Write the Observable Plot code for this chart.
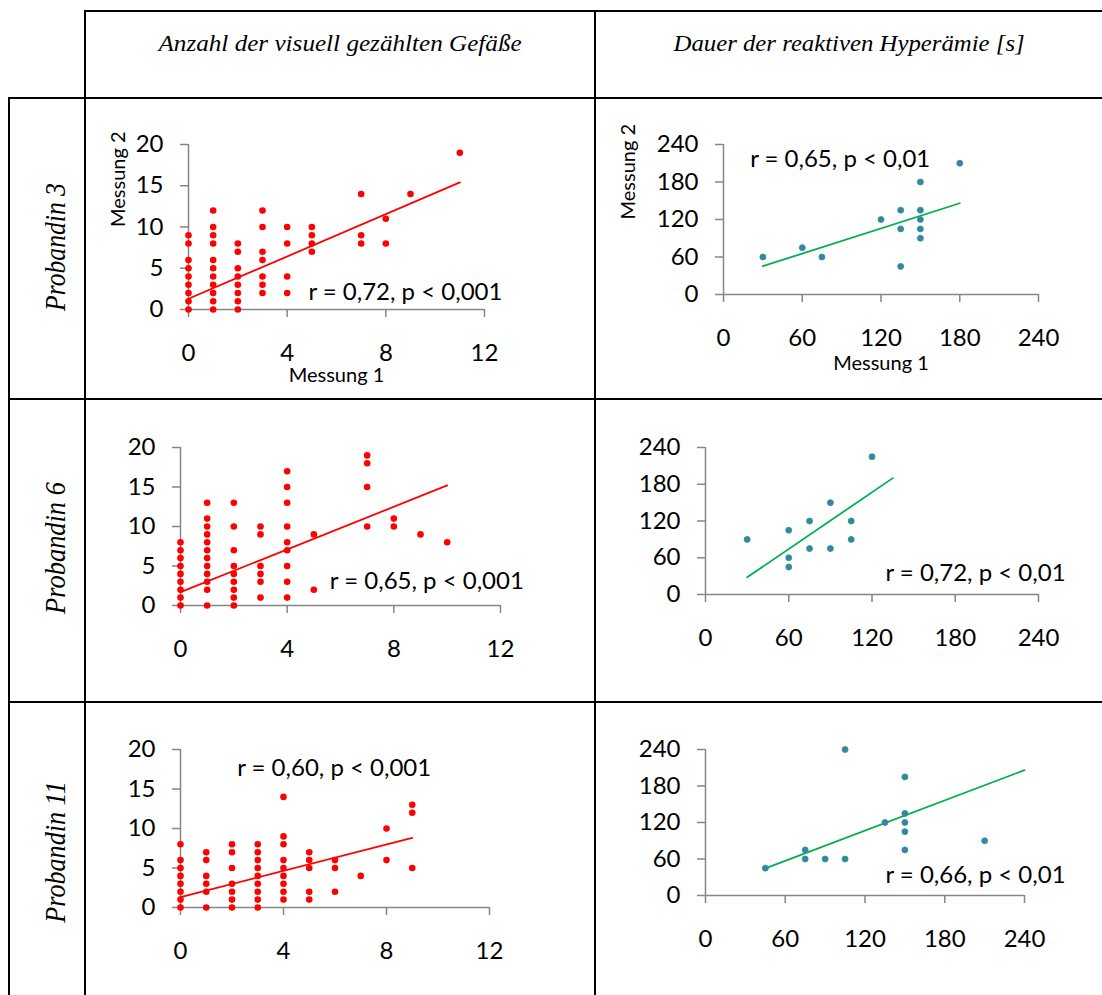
<!DOCTYPE html>
<html>
<head>
<meta charset="utf-8">
<script src="https://cdn.jsdelivr.net/npm/d3@7"></script>
<script src="https://cdn.jsdelivr.net/npm/@observablehq/plot@0.6"></script>
<style>
  html, body { margin: 0; padding: 0; background: #fff; }
  #page { position: relative; width: 1102px; height: 995px; background: #fff; overflow: hidden; }
  .ln { position: absolute; background: #000; }
  .hdr { position: absolute; text-align: center; font-family: "Liberation Serif", serif; font-style: italic; font-size: 23px; line-height: 1; color: #000; white-space: nowrap; }
  .hdr span { display: inline-block; transform-origin: center; }
  .rowlbl { position: absolute; font-family: "Liberation Serif", serif; font-style: italic; font-size: 30px; line-height: 1; color: #000; white-space: nowrap; }
  .cell { position: absolute; }
</style>
</head>
<body>
<div id="page"></div>
<script>
// ---------- data ----------
const columnTitles = ["Anzahl der visuell gezählten Gefäße", "Dauer der reaktiven Hyperämie [s]"];
const rowTitles = ["Probandin 3", "Probandin 6", "Probandin 11"];
const axisTitleX = "Messung 1";
const axisTitleY = "Messung 2";

const countTicksX = [0, 4, 8, 12];
const countTicksY = [0, 5, 10, 15, 20];
const timeTicks = [0, 60, 120, 180, 240];

// Probandin 3 – counted vessels (x = Messung 1, list of Messung 2 values)
const p3CountCols = [0, 1, 2, 3, 4, 5, 7, 8, 9, 11];
const p3CountVals = [
  [0, 1, 2, 3, 4, 5, 6, 8, 9],
  [0, 1, 2, 3, 4, 5, 6, 8, 9, 10, 12],
  [0, 1, 2, 3, 4, 5, 7, 8],
  [2, 3, 4, 6, 7, 10, 12],
  [2, 4, 8, 10],
  [7, 8, 9, 10],
  [8, 9, 14],
  [8, 11],
  [14],
  [19]
];
const p3CountTrendX = [0, 11];
const p3CountTrendY = [1.3, 15.4];
const p3CountStat = "r = 0,72, p < 0,001";

// Probandin 6 – counted vessels
const p6CountCols = [0, 1, 2, 3, 4, 5, 7, 8, 9, 10];
const p6CountVals = [
  [0, 1, 2, 3, 4, 5, 6, 7, 8],
  [0, 2, 3, 4, 5, 6, 7, 8, 9, 10, 11, 13],
  [0, 1, 2, 3, 4, 5, 7, 10, 13],
  [1, 3, 4, 5, 9, 10],
  [1, 3, 5, 7, 8, 10, 13, 15, 17],
  [2, 9],
  [10, 15, 18, 19],
  [10, 11],
  [9],
  [8]
];
const p6CountTrendX = [0, 10];
const p6CountTrendY = [1.7, 15.2];
const p6CountStat = "r = 0,65, p < 0,001";

// Probandin 11 – counted vessels
const p11CountCols = [0, 1, 2, 3, 4, 5, 6, 7, 8, 9];
const p11CountVals = [
  [0, 1, 2, 3, 4, 5, 6, 8],
  [0, 2, 3, 4, 6, 7],
  [0, 1, 2, 3, 5, 7, 8],
  [0, 1, 2, 3, 4, 5, 6, 7, 8],
  [1, 2, 3, 4, 5, 6, 8, 9, 14],
  [1, 2, 5, 6, 7],
  [2, 5, 6],
  [4],
  [6, 10],
  [5, 12, 13]
];
const p11CountTrendX = [0, 9];
const p11CountTrendY = [1.3, 8.8];
const p11CountStat = "r = 0,60, p < 0,001";

// Duration of reactive hyperaemia [s]
const p3TimeX = [30, 60, 75, 120, 135, 135, 135, 150, 150, 150, 150, 150, 180];
const p3TimeY = [60, 75, 60, 120, 135, 105, 45, 180, 135, 120, 105, 90, 210];
const p3TimeTrendX = [30, 180];
const p3TimeTrendY = [45.3, 146];
const p3TimeStat = "r = 0,65, p < 0,01";

const p6TimeX = [30, 60, 60, 60, 75, 75, 90, 90, 105, 105, 120];
const p6TimeY = [90, 105, 60, 45, 120, 75, 150, 75, 120, 90, 225];
const p6TimeTrendX = [30, 135];
const p6TimeTrendY = [28, 190];
const p6TimeStat = "r = 0,72, p < 0,01";

const p11TimeX = [45, 75, 75, 90, 105, 105, 135, 150, 150, 150, 150, 150, 210];
const p11TimeY = [45, 75, 60, 60, 240, 60, 120, 195, 135, 120, 105, 75, 90];
const p11TimeTrendX = [45, 240];
const p11TimeTrendY = [44.6, 206];
const p11TimeStat = "r = 0,66, p < 0,01";

// label anchor positions of the statistics, in data units [x, y]
const p3CountStatPos = [4.86, 2.1];
const p6CountStatPos = [5.6, 3.0];
const p11CountStatPos = [2.2, 17.6];
const p3TimeStatPos = [20.3, 217];
const p6TimeStatPos = [129.7, 35];
const p11TimeStatPos = [135.4, 32.5];

// ---------- helpers ----------
const fromColumns = (cols, vals) => cols.flatMap((c, i) => vals[i].map(v => ({x: c, y: v})));
const fromPairs = (xs, ys) => xs.map((x, i) => ({x, y: ys[i]}));

const page = document.getElementById("page");

// table lines
function line(l, t, w, h) {
  const d = document.createElement("div");
  d.className = "ln";
  Object.assign(d.style, {left: l + "px", top: t + "px", width: w + "px", height: h + "px"});
  page.appendChild(d);
}
line(84, 10, 1018, 2);
line(8, 97, 1094, 2);
line(8, 398, 1094, 2);
line(8, 701, 1094, 2);
line(8, 97, 2, 898);
line(84, 10, 2, 985);
line(594, 10, 2, 985);

// column headers
const headerCells = [{left: 86, width: 508, target: 363}, {left: 596, width: 506, target: 351}];
columnTitles.forEach((t, i) => {
  const d = document.createElement("div");
  d.className = "hdr";
  Object.assign(d.style, {left: headerCells[i].left + "px", width: headerCells[i].width + "px", top: "32px"});
  const s = document.createElement("span");
  s.textContent = t;
  d.appendChild(s);
  page.appendChild(d);
  const w = s.offsetWidth;
  s.style.transform = `scaleX(${headerCells[i].target / w})`;
});

// row labels
const rowCenters = [247, 548, 852];
const rowTargets = [128, 132, 142];
rowTitles.forEach((t, i) => {
  const d = document.createElement("div");
  d.className = "rowlbl";
  d.textContent = t;
  page.appendChild(d);
  const w = d.offsetWidth, h = d.offsetHeight;
  Object.assign(d.style, {left: (55 - w / 2) + "px", top: (rowCenters[i] - h / 2) + "px"});
  d.style.transform = `rotate(-90deg) scaleX(${rowTargets[i] / w})`;
});

// ---------- panels ----------
const RED = "#FF0000", GREEN = "#00B050", AXIS = "#868686";
const FS = 24;

function panel({cell, margins, xDomain, yDomain, xTicks, yTicks, points, trend, stat, statPos, kind, titles}) {
  const [cl, ct, cw, ch] = cell;
  const [mt, mr, mb, ml] = margins;
  const isCount = kind === "count";
  const marks = [
    Plot.axisX({ticks: xTicks, tickSize: 8, tickPadding: 26, stroke: AXIS, strokeWidth: 1.5, fill: "#000", fontSize: FS, label: null}),
    Plot.axisY({ticks: yTicks, tickSize: 8, tickPadding: 17, stroke: AXIS, strokeWidth: 1.5, fill: "#000", fontSize: FS, label: null}),
    Plot.ruleX([xDomain[0]], {stroke: AXIS, strokeWidth: 1.5}),
    Plot.ruleY([yDomain[0]], {stroke: AXIS, strokeWidth: 1.5}),
    Plot.line(trend, {x: "x", y: "y", stroke: isCount ? RED : GREEN, strokeWidth: 1.8}),
    isCount
      ? Plot.dot(points, {x: "x", y: "y", r: 3.3, fill: RED})
      : Plot.dot(points, {x: "x", y: "y", r: 3, fill: "#3B7FB6", stroke: "#22A06A", strokeWidth: 0.8}),
    Plot.text([stat], {x: () => statPos[0], y: () => statPos[1], text: d => d, textAnchor: "start", fontSize: FS, fill: "#000"})
  ];
  if (titles) {
    marks.push(Plot.text([axisTitleX], {frameAnchor: "bottom", dy: titles[0], text: d => d, fontSize: 20, fill: "#000"}));
    marks.push(Plot.text([axisTitleY], {frameAnchor: "left", dx: -titles[1], rotate: -90, text: d => d, fontSize: 20, fill: "#000"}));
  }
  const svg = Plot.plot({
    width: cw, height: ch,
    marginTop: mt, marginRight: mr, marginBottom: mb, marginLeft: ml,
    style: {fontFamily: "Lato, sans-serif", fontSize: FS + "px", color: "#000", background: "transparent", overflow: "visible"},
    x: {domain: xDomain, label: null},
    y: {domain: yDomain, label: null},
    marks
  });
  const wrap = document.createElement("div");
  wrap.className = "cell";
  Object.assign(wrap.style, {left: cl + "px", top: ct + "px", width: cw + "px", height: ch + "px"});
  wrap.appendChild(svg);
  page.appendChild(wrap);
}

const toTrend = (xs, ys) => fromPairs(xs, ys);

panel({cell: [86, 99, 508, 299], margins: [45, 110, 89, 102], xDomain: [0, 12], yDomain: [0, 20],
  xTicks: countTicksX, yTicks: countTicksY, points: fromColumns(p3CountCols, p3CountVals),
  trend: toTrend(p3CountTrendX, p3CountTrendY), stat: p3CountStat, statPos: p3CountStatPos, kind: "count", titles: [72, 70]});
panel({cell: [596, 99, 506, 299], margins: [45, 64, 104, 127], xDomain: [0, 240], yDomain: [0, 240],
  xTicks: timeTicks, yTicks: timeTicks, points: fromPairs(p3TimeX, p3TimeY),
  trend: toTrend(p3TimeTrendX, p3TimeTrendY), stat: p3TimeStat, statPos: p3TimeStatPos, kind: "time", titles: [75, 95]});
panel({cell: [86, 400, 508, 301], margins: [47, 94, 96, 94], xDomain: [0, 12], yDomain: [0, 20],
  xTicks: countTicksX, yTicks: countTicksY, points: fromColumns(p6CountCols, p6CountVals),
  trend: toTrend(p6CountTrendX, p6CountTrendY), stat: p6CountStat, statPos: p6CountStatPos, kind: "count"});
panel({cell: [596, 400, 506, 301], margins: [47, 64, 107, 109], xDomain: [0, 240], yDomain: [0, 240],
  xTicks: timeTicks, yTicks: timeTicks, points: fromPairs(p6TimeX, p6TimeY),
  trend: toTrend(p6TimeTrendX, p6TimeTrendY), stat: p6TimeStat, statPos: p6TimeStatPos, kind: "time"});
panel({cell: [86, 703, 508, 292], margins: [46, 105, 88, 94], xDomain: [0, 12], yDomain: [0, 20],
  xTicks: countTicksX, yTicks: countTicksY, points: fromColumns(p11CountCols, p11CountVals),
  trend: toTrend(p11CountTrendX, p11CountTrendY), stat: p11CountStat, statPos: p11CountStatPos, kind: "count"});
panel({cell: [596, 703, 506, 292], margins: [46, 78, 100, 109], xDomain: [0, 240], yDomain: [0, 240],
  xTicks: timeTicks, yTicks: timeTicks, points: fromPairs(p11TimeX, p11TimeY),
  trend: toTrend(p11TimeTrendX, p11TimeTrendY), stat: p11TimeStat, statPos: p11TimeStatPos, kind: "time"});
</script>
</body>
</html>
